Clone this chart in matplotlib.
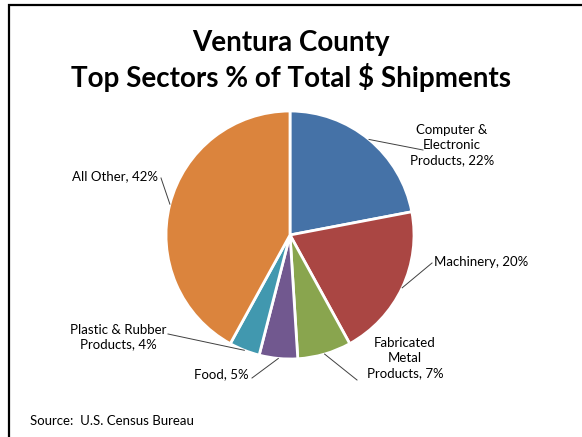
import numpy as np
import matplotlib.pyplot as plt

plt.rcParams['font.family'] = ['Lato', 'DejaVu Sans']

sectors = ['Computer &\nElectronic\nProducts', 'Machinery', 'Fabricated\nMetal\nProducts',
           'Food', 'Plastic & Rubber\nProducts', 'All Other']
shares = [22, 20, 7, 5, 4, 42]
colors = ['#4572A7', '#AA4643', '#89A54E', '#71588F', '#4198AF', '#DB843D']

W, H = 582, 437
cx, cy, r = 290, H - 235, 124

fig = plt.figure(figsize=(W / 100, H / 100), dpi=100)
ax = fig.add_axes([0, 0, 1, 1])

wedges, _ = ax.pie(shares, colors=colors, startangle=90, counterclock=False,
                   center=(cx, cy), radius=r,
                   wedgeprops=dict(edgecolor='white', linewidth=2))
ax.set_xlim(0, W)
ax.set_ylim(0, H)
ax.set_aspect('equal')
ax.axis('off')

# slide border: only the top and left edges show
ax.plot([8.5, 8.5, W], [0, H - 4.5, H - 4.5], color='black', linewidth=1.6,
        solid_joinstyle='miter')

ax.text(W / 2, H - 43, 'Ventura County', ha='center', va='center',
        fontsize=20, fontweight='bold')
ax.text(W / 2, H - 78, 'Top Sectors % of Total $ Shipments', ha='center', va='center',
        fontsize=20, fontweight='bold')

# label placement: text anchor, alignment, leader end point (pixels from top-left)
layout = [
    ((452, 145), 'center', (423, 150)),
    ((434, 262), 'left', (432, 263)),
    ((405, 358), 'center', (357, 380)),
    ((249, 374), 'right', (252, 378)),
    ((118, 337), 'center', (168, 334)),
    ((158, 176), 'right', (161, 178)),
]

cum = 0
for name, val, w, (pos, ha, end) in zip(sectors, shares, wedges, layout):
    mid = np.deg2rad(90 - (cum + val / 2) / 100 * 360)
    cum += val
    ex, ey = cx + r * np.cos(mid), cy + r * np.sin(mid)
    ax.plot([ex, end[0]], [ey, H - end[1]], color='#404040', linewidth=0.7)
    ax.text(pos[0], H - pos[1], f'{name}, {val}%', ha=ha, va='center',
            fontsize=9.5, multialignment='center', linespacing=1.3)

ax.text(30, H - 421, 'Source:  U.S. Census Bureau', ha='left', va='center', fontsize=9.5)

fig.savefig('out.png', dpi=100)
